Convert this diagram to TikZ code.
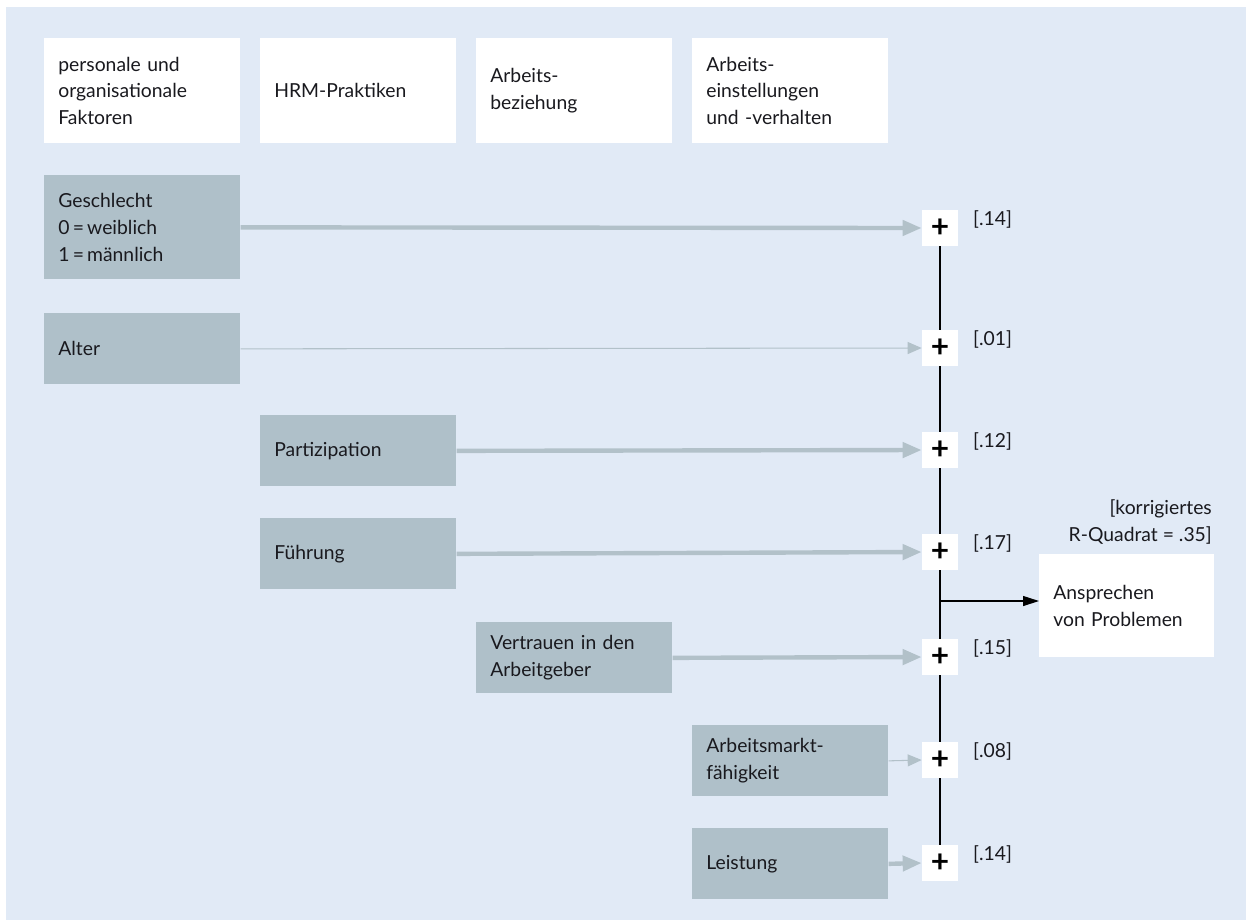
\documentclass[tikz,border=0pt]{standalone}
\usepackage{fontspec}
\setmainfont{Lato}
\usepackage{tikz}
\usetikzlibrary{calc}
\usetikzlibrary{arrows.meta}

\definecolor{hgblau}{RGB}{225,234,246}
\definecolor{boxgrau}{RGB}{175,192,201}
\definecolor{pfeilgrau}{RGB}{178,193,201}
\definecolor{schrift}{RGB}{25,25,30}

\tikzset{
  kopf/.style={fill=white, minimum height=2.1cm, text width=3.36cm, inner xsep=0.28cm, align=left, anchor=north west},
  faktor/.style={fill=boxgrau, minimum height=1.42cm, text width=3.36cm, inner xsep=0.28cm, align=left, anchor=north west},
  plus/.style={fill=white, minimum size=0.72cm, inner sep=0pt, text=black, font=\fontsize{18}{18}\selectfont\bfseries},
  wert/.style={anchor=west},
  pfeil/.style={draw=pfeilgrau, line width=2.5pt, -{Triangle[length=0.38cm, width=0.3cm]}},
  pfeilduenn/.style={draw=pfeilgrau, line width=0.6pt, -{Triangle[length=0.28cm, width=0.24cm]}},
  ausgang/.style={draw=black, line width=0.6pt, -{Triangle[length=0.32cm, width=0.2cm]}}
}

\begin{document}
\begin{tikzpicture}[x=0.02cm, y=-0.02cm, text=schrift, font=\fontsize{11}{15.3}\selectfont]
\useasboundingbox (0,0) rectangle (1246,920);
\fill[hgblau] (6,7) rectangle (1246,920);

\node[kopf] (h1) at (44,38) {personale und\\organisationale\\Faktoren};
\node[kopf] (h2) at (260,38) {HRM-Praktiken};
\node[kopf] (h3) at (476,38) {Arbeits-\\beziehung};
\node[kopf] (h4) at (692,38) {Arbeits-\\einstellungen\\und -verhalten};

\node[faktor, minimum height=2.08cm] (ge) at (44,175) {Geschlecht\\0\,=\,weiblich\\1\,=\,männlich};
\node[faktor] (al) at (44,313) {Alter};
\node[faktor] (pa) at (260,415) {Partizipation};
\node[faktor] (fu) at (260,518) {Führung};
\node[faktor] (ve) at (476,622) {Vertrauen in den\\Arbeitgeber};
\node[faktor] (am) at (692,725) {Arbeitsmarkt-\\fähigkeit};
\node[faktor] (le) at (692,828) {Leistung};

\foreach \i/\y/\w in {1/228/.14, 2/348/.01, 3/450/.12, 4/552/.17, 5/657/.15, 6/760/.08, 7/863/.14} {
  \node[plus] (p\i) at (940,\y) {+};
  \node[wert] (w\i) at (967,\y-9) {[\w]};
}
\foreach \i [evaluate=\i as \j using int(\i+1)] in {1,...,6}
  \draw[line width=0.6pt] (p\i.south) -- (p\j.north);

\draw[pfeil] (ge.east) -- (p1.west);
\draw[pfeilduenn] (al.east) -- (p2.west);
\draw[pfeil] (pa.east) -- (p3.west);
\draw[pfeil] (fu.east) -- (p4.west);
\draw[pfeil] (ve.east) -- (p5.west);
\draw[pfeilduenn] (am.east) -- (p6.west);
\draw[pfeil] (le.east) -- (p7.west);

\node[fill=white, minimum height=2.06cm, text width=2.94cm, inner xsep=0.28cm, align=left, anchor=north west] (ziel) at (1039,554) {Ansprechen\\von Problemen};
\node[align=right, anchor=east] (rq) at (1218,522) {[korrigiertes\\R-Quadrat = .35]};
\coordinate (knoten) at (940,601);
\draw[ausgang] (knoten) -- (knoten -| ziel.west);
\end{tikzpicture}
\end{document}
